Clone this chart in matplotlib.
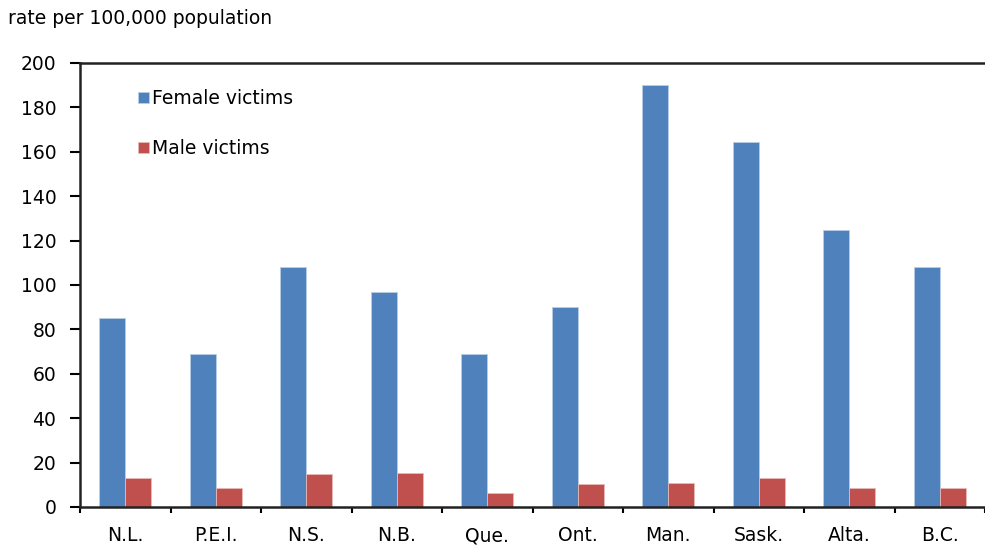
import matplotlib

matplotlib.use("Agg")
import matplotlib.pyplot as plt
import numpy as np

provinces = ["N.L.", "P.E.I.", "N.S.", "N.B.", "Que.", "Ont.", "Man.", "Sask.", "Alta.", "B.C."]
female_victims = [85, 69, 108, 97, 69, 90, 190, 164.5, 125, 108]
male_victims = [13, 8.5, 15, 15.5, 6.5, 10.5, 11, 13, 8.5, 8.5]

FEMALE_COLOR = "#4f81bd"
MALE_COLOR = "#c0504d"
FONT_SIZE = 13.5

plt.rcParams["font.family"] = ["DejaVu Sans"]

fig = plt.figure(figsize=(9.85, 5.48), dpi=100)
ax = fig.add_axes([80 / 985, 1 - 507 / 548, 1 - 80 / 985, 444 / 548])

centers = np.arange(len(provinces)) + 0.5
width = 0.285
ax.bar(centers - width / 2, female_victims, width, color=FEMALE_COLOR,
       edgecolor="#b9cde5", linewidth=0.6, label="Female victims", zorder=2)
ax.bar(centers + width / 2, male_victims, width, color=MALE_COLOR,
       edgecolor="#e6b9b8", linewidth=0.6, label="Male victims", zorder=2)

ax.set_xlim(0, len(provinces))
ax.set_ylim(0, 200)
ax.set_yticks(range(0, 201, 20))
ax.set_xticks(np.arange(len(provinces) + 1))
ax.set_xticklabels([])
ax.set_xticks(centers, minor=True)
ax.set_xticklabels(provinces, minor=True)
ax.tick_params(axis="x", which="minor", length=0, pad=14, labelsize=FONT_SIZE)
ax.tick_params(axis="x", which="major", length=4, width=1.5, direction="out")
ax.tick_params(axis="y", length=7, width=1.5, direction="out", labelsize=FONT_SIZE, pad=10)

for side in ["left", "bottom", "top"]:
    ax.spines[side].set_linewidth(1.8)
    ax.spines[side].set_color("#222222")
ax.spines["right"].set_visible(False)

fig.text(8 / 985, 1 - 18 / 548, "rate per 100,000 population", fontsize=FONT_SIZE,
         va="center", ha="left")

ax.legend(loc="upper left", bbox_to_anchor=(0.05, 0.97), frameon=False,
          fontsize=FONT_SIZE, handlelength=0.55, handleheight=0.55, handletextpad=0.2,
          labelspacing=1.65, borderaxespad=0.3)

fig.savefig("out.png", dpi=100)
plt.close(fig)
